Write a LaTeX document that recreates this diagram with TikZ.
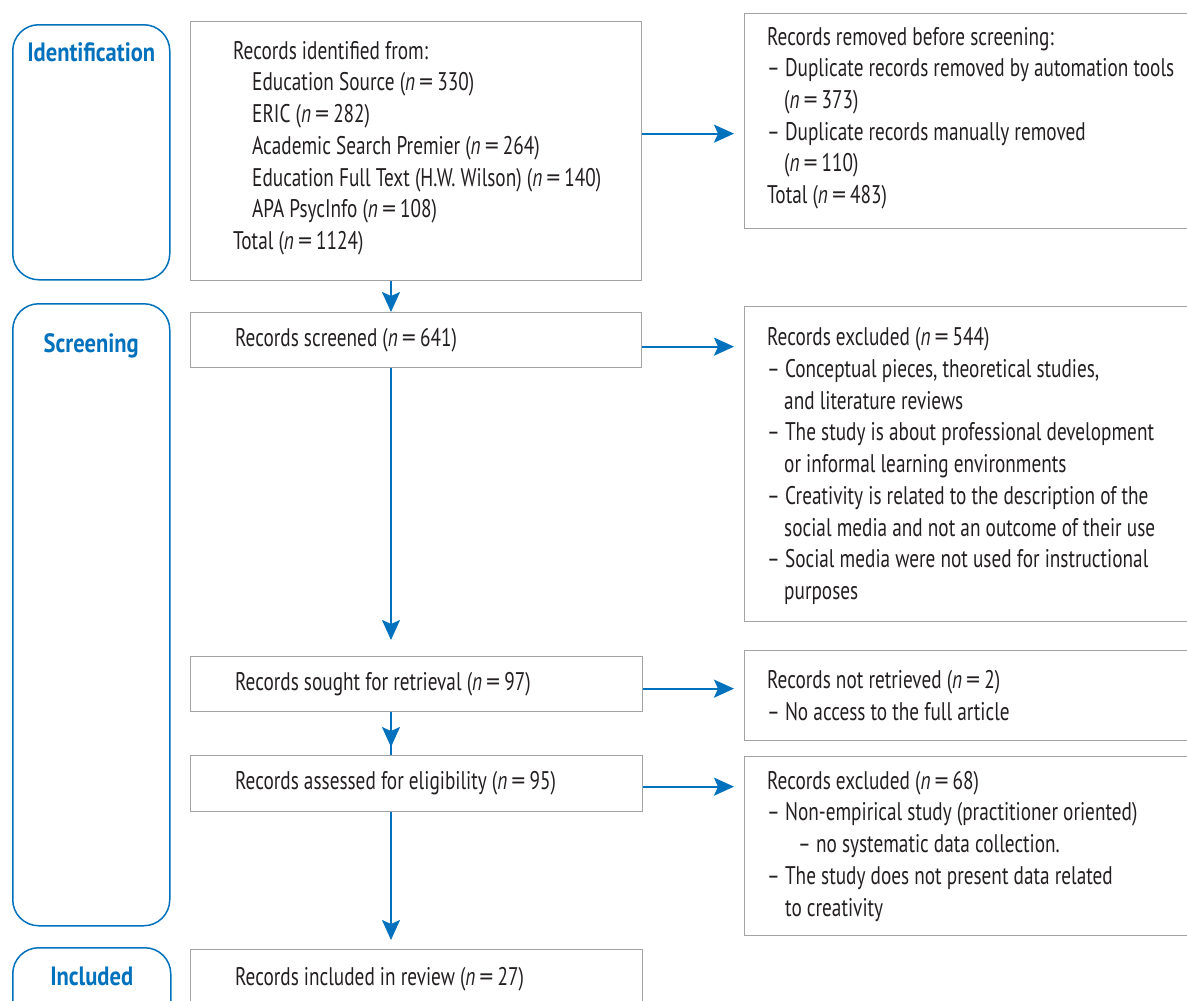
\documentclass[tikz,border=0pt]{standalone}
\usepackage{fontspec}
\setmainfont{PT Sans}[FakeStretch=0.755,BoldFeatures={FakeStretch=0.85}]
\usetikzlibrary{arrows.meta,calc}
\definecolor{pblue}{HTML}{0071BC}
\definecolor{pgray}{HTML}{A3A3A3}
\definecolor{ptext}{HTML}{231F20}
\newcommand{\Nval}[1]{(\textit{n}\hspace{4pt}\scalebox{1.45}[1]{=}\hspace{4pt}#1)}
\begin{document}
\begin{tikzpicture}[x=1pt,y=-1pt,
  box/.style={draw=pgray, line width=1.3pt, anchor=north west, inner sep=0pt},
  phase/.style={draw=pblue, line width=1.5pt, anchor=north west, inner sep=0pt, rounded corners=26pt},
  phlabel/.style={anchor=base, inner sep=0pt, text=pblue, font=\fontsize{26.5}{30}\selectfont\bfseries},
  txt/.style={anchor=west, inner sep=0pt, align=left, text=ptext, font=\fontsize{25.5}{31.7}\selectfont},
  link/.style={draw=pblue, line width=2pt},
  arr/.style={link, -{Stealth[length=20pt,width=18pt,inset=4pt]}}
]
\useasboundingbox (0,0) rectangle (1187,1001);
\clip (0,0) rectangle (1187,1001);

% phase boxes
\node[phase, minimum width=157pt, minimum height=255pt] (phid) at (12,24) {};
\node[phase, minimum width=157pt, minimum height=622pt] (phsc) at (12,303) {};
\node[phase, minimum width=158pt, minimum height=90pt] (phin) at (12,947) {};
\node[phlabel] (labid) at ([yshift=-37pt]phid.north) {Identification};
\node[phlabel] (labsc) at ([yshift=-49pt]phsc.north) {Screening};
\node[phlabel] (labin) at ([yshift=-38pt]phin.north) {Included};

% main column boxes
\node[box, minimum width=451pt, minimum height=259pt] (ident) at (190,21) {};
\node[box, minimum width=451pt, minimum height=55pt] (screened) at (190,312) {};
\node[box, minimum width=452pt, minimum height=55pt] (retr) at (190,656) {};
\node[box, minimum width=452pt, minimum height=56pt] (elig) at (190,755) {};
\node[box, minimum width=452pt, minimum height=90pt] (incl) at (190,949) {};

% right column boxes
\node[box, minimum width=470pt, minimum height=215pt] (rem) at (744,13) {};
\node[box, minimum width=470pt, minimum height=315pt] (excla) at (744,306) {};
\node[box, minimum width=470pt, minimum height=90pt] (notret) at (744,650) {};
\node[box, minimum width=470pt, minimum height=179pt] (exclb) at (744,756) {};

% texts
\node[txt] (identtxt) at ([xshift=43pt,yshift=3pt]ident.west) {Records identified from:\\
\hspace*{19pt}Education Source \Nval{330}\\
\hspace*{19pt}ERIC \Nval{282}\\
\hspace*{19pt}Academic Search Premier \Nval{264}\\
\hspace*{19pt}Education Full Text (H.W. Wilson) \Nval{140}\\
\hspace*{19pt}APA PsycInfo \Nval{108}\\
Total \Nval{1124}};
\node[txt] (screenedtxt) at ([xshift=45pt]screened.west) {Records screened \Nval{641}};
\node[txt] (retrtxt) at ([xshift=45pt]retr.west) {Records sought for retrieval \Nval{97}};
\node[txt] (eligtxt) at ([xshift=45pt]elig.west) {Records assessed for eligibility \Nval{95}};
\node[txt, anchor=base west] (incltxt) at ($(incl.north west)+(45,36)$) {Records included in review \Nval{27}};

\node[txt] (remtxt) at ([xshift=23pt,yshift=3pt]rem.west) {Records removed before screening:\\
– Duplicate records removed by automation tools\\
\hspace*{17pt}\Nval{373}\\
– Duplicate records manually removed\\
\hspace*{17pt}\Nval{110}\\
Total \Nval{483}};
\node[txt] (explatxt) at ([xshift=23pt,yshift=-2pt]excla.west) {Records excluded \Nval{544}\\
– Conceptual pieces, theoretical studies,\\
\hspace*{17pt}and literature reviews\\
– The study is about professional development\\
\hspace*{17pt}or informal learning environments\\
– Creativity is related to the description of the\\
\hspace*{17pt}social media and not an outcome of their use\\
– Social media were not used for instructional\\
\hspace*{17pt}purposes};
\node[txt] (notrettxt) at ([xshift=23pt]notret.west) {Records not retrieved \Nval{2}\\
– No access to the full article};
\node[txt] (exclbtxt) at ([xshift=23pt]exclb.west) {Records excluded \Nval{68}\\
– Non-empirical study (practitioner oriented)\\
\hspace*{31pt}– no systematic data collection.\\
– The study does not present data related\\
\hspace*{18pt}to creativity};

% vertical connectors
\coordinate (colx) at (391,0);
\draw[arr] (ident.south -| colx) -- (screened.north -| colx);
\draw[arr, shorten >=16pt] (screened.south -| colx) -- (retr.north -| colx);
\draw[link] (retr.south -| colx) -- (elig.north -| colx);
\draw[arr, shorten >=8pt] (retr.south -| colx) -- (elig.north -| colx);
\draw[arr, shorten >=9pt] (elig.south -| colx) -- (incl.north -| colx);

% horizontal connectors
\draw[arr, shorten >=10pt] ([yshift=17.5pt]ident.east) -- ([yshift=17.5pt]ident.east -| rem.west);
\draw[arr, shorten >=10pt] ([yshift=-6.5pt]screened.east) -- ([yshift=-6.5pt]screened.east -| excla.west);
\draw[arr, shorten >=10pt] ([yshift=-4.5pt]retr.east) -- ([yshift=-4.5pt]retr.east -| notret.west);
\draw[arr, shorten >=10pt] ([yshift=-3pt]elig.east) -- ([yshift=-3pt]elig.east -| exclb.west);
\end{tikzpicture}
\end{document}
